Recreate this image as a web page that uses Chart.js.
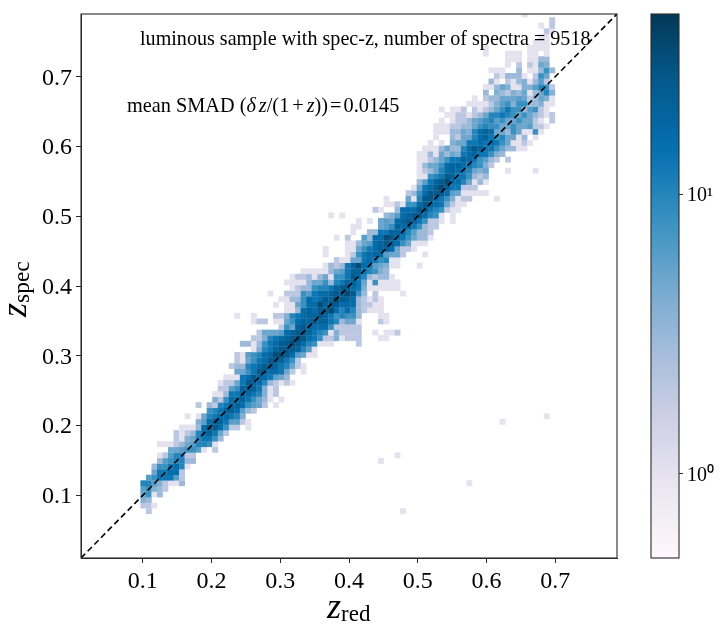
<!DOCTYPE html>
<html><head><meta charset="utf-8">
<script src="https://cdn.jsdelivr.net/npm/chart.js@4"></script>
<style>html,body{margin:0;padding:0;background:#fff;overflow:hidden}
#main{position:absolute;left:0;top:0}#bar{position:absolute;left:640px;top:0}</style>
</head><body>
<canvas id="main" width="640" height="632"></canvas>
<canvas id="bar" width="81" height="632"></canvas>
<script>
const tickValues=[0.1,0.2,0.3,0.4,0.5,0.6,0.7];
const colorbarTicks=[1,10];
const colorbarRange=[0.5,44];
const axisRange=[0.01,0.79];
const diagonal=[0.01,0.79];
const binOriginX=0.0967, binOriginY=0.0732, binWidth=0.00804, binHeight=0.008;
const pubu=['#fff7fb','#ece7f2','#d0d1e6','#a6bddb','#74a9cf','#3690c0','#0570b0','#045a8d','#023858'];
// histogram counts, one list per y bin; rowStart = x bin of the first entry
const rowStart=[1,0,0,0,0,0,1,2,2,3,3,5,3,6,6,7,10,8,12,10,13,13,14,14,15,17,16,17,17,20,18,20,21,25,20,17,26,24,25,23,27,26,27,29,33,35,33,33,37,35,38,38,39,34,42,44,44,48,49,50,50,50,50,50,50,51,52,53,53,53,54,55,54,59,60,62,62,63,64,63,66,66,62,62,71,72,73,72,74,69];
const rowCounts=[
[2],[2,2,1],[4,3],[5,8,1,3],[6,8,4,3,2],[10,10,6,4,2,1,1,3],
[6,8,13,13,13,6,2],[5,13,13,16,16,2],[3,8,8,13,16,10,1],[3,6,8,10,10,3,3],[1,2,6,10,10,2,2],
[5,5,6,8,8,6,1,0,2],[1,1,1,2,3,5,6,10,10,8,1],[2,1,4,5,10,13,13,8,3],[2,1,2,3,10,16,20,13,5,2],
[1,1,1,3,16,25,25,16,8,2,2,0,1],[4,6,16,25,20,13,6,6,2,1],[1,0,1,5,10,13,16,16,13,10,4],
[8,10,13,20,20,16,6,3,2],[2,0,3,2,10,13,20,20,16,8,6,5,2,0,1],[4,2,8,16,16,20,13,8,5,3,1,0,1],
[1,1,3,13,13,20,16,13,10,4,1,2],[2,2,6,8,20,25,20,13,4,1,2],[1,2,2,5,13,25,20,16,10,3,2,1,2,1],
[1,1,1,13,16,25,20,16,13,6,5,3],[5,5,8,13,25,25,16,16,13,5,2,0,1],[2,3,3,10,13,16,25,25,20,13,10,5,2,1],
[2,1,5,8,13,16,25,25,20,13,8,2],[2,1,6,8,10,16,20,32,32,25,16,6,5,1,1],[1,4,10,13,20,25,25,25,20,10,6,1],
[3,3,1,3,8,13,16,25,25,32,25,16,10,8,1,1,1,0,0,0,0,2],
[2,2,4,10,13,16,20,25,32,25,16,13,8,2,2,4,1,2,2,2,0,0,0,1,1],
[2,5,5,5,6,16,20,25,25,20,13,10,8,1,4,2,2,2,2,0,0,1,0,1,1,2],
[2,8,5,20,25,20,16,16,16,8,2,2,2,2,2],
[1,2,2,0,1,1,5,8,16,20,20,25,20,20,13,10,3,5,5,1,0,0,0,2,1],
[1,0,0,1,0,0,0,2,2,4,10,13,16,20,20,25,20,13,8,10,8,8,3,0,0,0,1,1],
[1,1,3,16,20,16,25,25,32,16,10,16,10,3,2,1,1,1],
[1,0,1,1,5,8,16,16,32,20,25,25,16,16,16,3,2,2,1,1],
[1,1,3,3,8,16,13,16,25,20,32,25,20,16,3,2,1,2,1],
[1,0,0,2,2,2,8,6,13,16,16,20,25,25,32,25,8,3,0,2,0,0,0,0,1],
[1,2,3,3,8,10,10,13,20,25,25,16,13,4,1,1,1,1,1,1],
[1,1,1,1,3,5,5,8,3,10,13,20,20,13,5,1,8,1,1,1,1],
[1,2,2,3,1,3,5,1,8,8,13,25,16,10,3,2,3,3,1],
[1,1,1,1,1,3,5,6,13,20,20,13,10,8,4,3],
[1,3,2,3,13,20,32,16,13,6,5,4,1,1,0,0,0,1],
[2,1,1,5,5,13,16,13,8,10,1,1],
[1,0,0,0,1,2,8,13,16,20,16,6,5,5,2,0,0,0,1],
[1,0,0,0,1,1,5,8,13,16,20,20,16,5,2,2,1],
[1,1,3,5,6,16,20,25,20,16,8,5,1,1,1],
[1,0,2,0,0,6,3,16,16,32,25,16,13,8,5,3,3,1],
[1,0,0,3,3,13,13,20,20,16,10,6,3,3,2],
[1,1,0,0,0,5,6,8,20,16,20,13,8,3,2,2],
[1,0,1,0,5,6,5,16,20,25,20,13,8,2,2,1,0,1],
[1,0,1,0,0,0,0,0,0,0,3,4,6,16,20,25,25,16,10,8,1,0,1],
[2,1,0,0,3,16,16,16,25,25,13,10,8,2,1,1],
[1,1,2,1,8,8,16,25,20,16,13,5,2,1,1],
[1,0,0,0,5,1,10,25,25,16,13,8,4,1,2,2,0,0,0,0,1],
[2,3,8,16,25,25,25,16,6,5,1,1,1,1,1],
[1,5,13,16,25,32,20,13,13,2,2,2],
[3,6,13,20,25,32,16,16,10,5,1,3,1],
[1,1,8,10,13,25,20,13,13,8,3,2,3],
[1,2,3,5,10,16,20,16,13,10,5,4,5,0,0,0,1,0,0,0,0,1],
[1,3,5,5,8,16,20,20,16,13,10,8,4,2],
[1,1,2,3,5,8,13,13,20,16,13,8,6,3,2,0,2],
[1,1,3,1,5,3,5,4,13,16,20,13,13,8,4,3],
[1,1,1,3,5,3,3,10,16,25,20,13,13,8,5,3,3,1,1],
[1,0,1,0,4,5,5,13,13,16,13,16,13,8,5,1,1,2,1],
[1,0,0,3,2,5,5,10,16,20,13,8,10,5,5,1,3,0,1],
[1,1,1,3,3,5,4,10,16,20,16,5,5,3,8,5,1,1,8,1],
[1,1,1,2,2,3,3,5,8,10,8,8,5,5,8,5,5,6,2,2,1],
[1,0,1,2,2,3,5,6,8,10,6,8,5,5,8,5,5,2,1,0,2],
[1,1,2,2,1,2,3,5,10,10,13,10,8,5,8,5,3,2,1,2],
[1,0,1,1,2,0,2,1,2,3,5,8,13,8,8,3,6,8,2,1],
[1,1,1,1,2,4,6,8,4,8,8,3,3,4,1,1],
[1,0,2,3,3,5,5,5,6,5,2,3,5,4,1],
[3,0,4,3,2,4,3,5,1,3,5,10,4],
[1,1,3,5,4,1,1,4,4,6,10,8,2],
[3,1,0,2,1,3,4,1,3,6,2],
[2,1,3,3,3,1,0,2,8,5],
[1,1,1,0,0,3,0,1,1,3,8,3],
[1,0,2,0,2,1,5,4],
[1,1,1,0,1,1,3,3],
[1,0,0,0,1,1,1,0,1,1,0,1],
[1,0,0,0,0,0,0,0,1,1,1,1],
[1,1,1],[1,1],[2,1],[1,0,2],[2],[1]
];
// isolated bins away from the main band
const strayCols=[65,73,46,43,59,47];
const strayRows=[16,17,10,9,5,0];
const strayCounts=[1,1,1,1,1,1];

function colorAt(t){
  t=Math.min(1,Math.max(0,t))*(pubu.length-1);
  const i=Math.min(pubu.length-2,Math.floor(t)),f=t-i;
  const p=s=>[1,3,5].map(k=>parseInt(s.substr(k,2),16));
  const a=p(pubu[i]),b=p(pubu[i+1]);
  return `rgb(${a.map((v,k)=>Math.round(v+(b[k]-v)*f)).join(',')})`;
}
function colorOf(c){
  const lo=Math.log10(colorbarRange[0]),hi=Math.log10(colorbarRange[1]);
  return colorAt((Math.log10(c)-lo)/(hi-lo));
}
const cells=[];
function addCell(col,row,count){
  if(count>0)cells.push({x:binOriginX+(col+0.5)*binWidth,y:binOriginY+(row+0.5)*binHeight,c:count});
}
rowCounts.forEach((r,j)=>r.forEach((c,k)=>addCell(rowStart[j]+k,j,c)));
strayCols.forEach((c,k)=>addCell(c,strayRows[k],strayCounts[k]));

const FONT='"Liberation Serif"';
const INK='#000', FRAME='#2b2b2b';
function seq(ctx,x,y,parts){
  parts.forEach(([t,f,dy,gap])=>{
    ctx.font=f;ctx.fillText(t,x,y+(dy||0));x+=ctx.measureText(t).width+(gap||0);
  });
}
const decor={
  id:'decor',
  afterDatasetsDraw(chart){
    const {ctx,chartArea:a}=chart;
    ctx.save();
    ctx.strokeStyle=FRAME;ctx.lineWidth=1.1;
    ctx.strokeRect(a.left,a.top,a.right-a.left,a.bottom-a.top);
    ctx.fillStyle=INK;ctx.textBaseline='alphabetic';ctx.textAlign='left';
    ctx.font=`20.1px ${FONT}`;
    ctx.fillText('luminous sample with spec-z, number of spectra = 9518',140,45);
    const n=`20.3px ${FONT}`,it=`italic 20.3px ${FONT}`;
    seq(ctx,127,112,[['mean SMAD (',n],['δ',it,0,3],['z',it],['/(1',n,0,3],['+',n,0,3],['z',it],['))',n,0,2],['=',n,0,2],['0.0145',n]]);
    seq(ctx,327,618,[['z',`italic 36px ${FONT}`],['red',`23px ${FONT}`,3]]);
    ctx.translate(26,317);ctx.rotate(-Math.PI/2);
    seq(ctx,0,0,[['z',`italic 36px ${FONT}`],['spec',`23.5px ${FONT}`,3]]);
    ctx.restore();
  }
};
const noPadY=s=>{s.paddingTop=0;s.paddingBottom=0;};
const noPadX=s=>{s.paddingLeft=0;s.paddingRight=0;};
new Chart(document.getElementById('main'),{
  type:'scatter',
  data:{datasets:[
    {label:'zspec = zred',data:diagonal.map(v=>({x:v,y:v})),showLine:true,borderColor:'#000',borderWidth:1.6,borderDash:[6,3.5],pointRadius:0,order:0},
    {label:'counts',data:cells,order:1,pointStyle:'rect',borderWidth:0,
     pointBorderWidth:0,
     pointRadius:c=>{const s=c.chart.scales.x;return (Math.abs(s.getPixelForValue(binWidth)-s.getPixelForValue(0))+0.35)/Math.SQRT2;},
     pointHoverRadius:4,
     pointBackgroundColor:c=>c.raw?colorOf(c.raw.c):'#fff'}
  ]},
  options:{
    responsive:false,animation:false,events:[],
    layout:{autoPadding:false,padding:{top:14,right:23,left:0,bottom:0}},
    plugins:{legend:{display:false},tooltip:{enabled:false}},
    scales:{
      x:{type:'linear',min:axisRange[0],max:axisRange[1],
        afterBuildTicks:s=>{s.ticks=tickValues.map(v=>({value:v}));},
        afterFit:s=>{s.height=74;noPadX(s);},
        border:{color:FRAME,width:1},
        grid:{drawOnChartArea:false,drawTicks:true,tickLength:5,color:FRAME},
        ticks:{autoSkip:false,maxRotation:0,color:INK,padding:4,font:{family:FONT,size:24},callback:v=>Number(v).toFixed(1)}},
      y:{type:'linear',min:axisRange[0],max:axisRange[1],
        afterBuildTicks:s=>{s.ticks=tickValues.map(v=>({value:v}));},
        afterFit:s=>{s.width=81;noPadY(s);},
        border:{color:FRAME,width:1},
        grid:{drawOnChartArea:false,drawTicks:true,tickLength:5,color:FRAME},
        ticks:{autoSkip:false,color:INK,padding:4,labelOffset:1.5,font:{family:FONT,size:24},callback:v=>Number(v).toFixed(1)}}
    }
  },
  plugins:[decor]
});
const barFrame={id:'barFrame',afterDatasetsDraw(chart){
  const {ctx,chartArea:a}=chart;ctx.save();ctx.strokeStyle=FRAME;ctx.lineWidth=1.1;
  ctx.strokeRect(a.left,a.top,a.right-a.left,a.bottom-a.top);ctx.restore();}};
new Chart(document.getElementById('bar'),{
  type:'bar',
  data:{labels:['count'],datasets:[{data:[colorbarRange],borderWidth:0,barPercentage:1,categoryPercentage:1,
    backgroundColor:c=>{
      const a=c.chart.chartArea;if(!a)return pubu[4];
      const g=c.chart.ctx.createLinearGradient(0,a.bottom,0,a.top);
      pubu.forEach((p,i)=>g.addColorStop(i/(pubu.length-1),p));return g;}}]},
  options:{
    responsive:false,animation:false,events:[],
    layout:{autoPadding:false,padding:{left:11,top:14,bottom:74,right:0}},
    plugins:{legend:{display:false},tooltip:{enabled:false}},
    scales:{
      x:{display:false},
      y:{type:'logarithmic',position:'right',min:colorbarRange[0],max:colorbarRange[1],
        afterBuildTicks:s=>{s.ticks=colorbarTicks.map(v=>({value:v}));},
        afterFit:s=>{s.width=42;noPadY(s);},
        border:{display:false},
        grid:{drawOnChartArea:false,drawTicks:true,tickLength:4,color:FRAME},
        ticks:{autoSkip:false,color:INK,padding:4,labelOffset:1.5,font:{family:FONT,size:20},
          callback:v=>v===1?'10⁰':v===10?'10¹':''}}
    }
  },
  plugins:[barFrame]
});
</script>
</body></html>
